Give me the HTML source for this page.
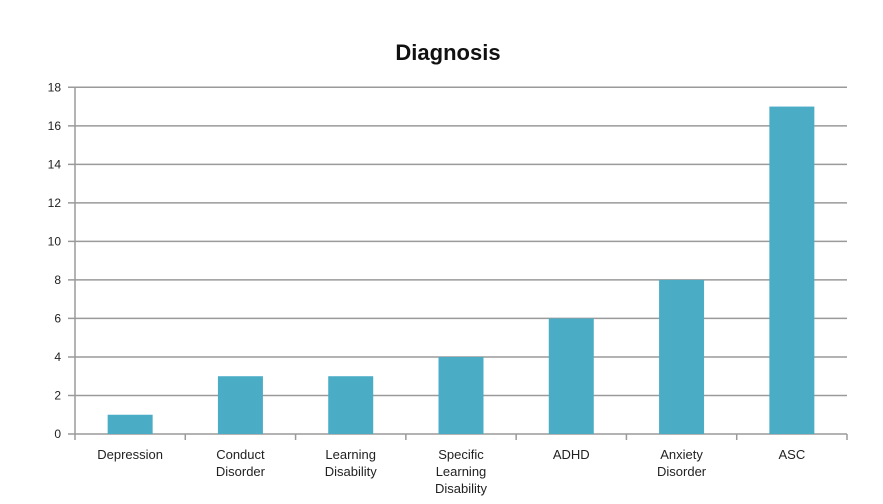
<!DOCTYPE html>
<html><head><meta charset="utf-8"><style>
body{margin:0;background:#fff;}
svg{display:block;font-family:"Liberation Sans",sans-serif;}
</style></head><body>
<svg id="chart" width="883" height="504">
<text x="448" y="60" text-anchor="middle" font-size="22" font-weight="bold" fill="#111">Diagnosis</text>
<g id="grid"></g><g id="bars"></g><g id="labels"></g>
</svg>
<script>
const categories=[["Depression"],["Conduct","Disorder"],["Learning","Disability"],["Specific","Learning","Disability"],["ADHD"],["Anxiety","Disorder"],["ASC"]];
const values=[1,3,3,4,6,8,17];
const yTicks=[0,2,4,6,8,10,12,14,16,18];
const L=75,R=847,T=87.3,B=434,YMAX=18;
const y=v=>B-(v/YMAX)*(B-T);
const cw=(R-L)/categories.length;
const x=i=>L+cw*(i+0.5);
const NS="http://www.w3.org/2000/svg";
function mk(t,a,p){const e=document.createElementNS(NS,t);for(const k in a)e.setAttribute(k,a[k]);p.appendChild(e);return e;}
const g=document.getElementById('grid'),b=document.getElementById('bars'),lb=document.getElementById('labels');
yTicks.forEach(v=>{
 const ln=mk('line',{x1:L-7,x2:R,y1:y(v),y2:y(v),stroke:'#9a9a9a','stroke-width':1.5},g);
 
 
 const t=mk('text',{x:L-14,y:y(v)+4,'text-anchor':'end','font-size':12,fill:'#222'},g);
 t.textContent=v;
 
 
});
const ax=mk('line',{x1:L,x2:L,y1:T,y2:B,stroke:'#9a9a9a','stroke-width':1.5},g);


for(let i=0;i<=categories.length;i++){
 const tk=mk('line',{x1:L+cw*i,x2:L+cw*i,y1:B,y2:B+6,stroke:'#9a9a9a','stroke-width':1.5},g);
 
 
}
values.forEach((v,i)=>{
 const r=mk('rect',{x:x(i)-22.5,y:y(v),width:45,height:B-y(v),fill:'#4bacc6'},b);
 
 
 categories[i].forEach((s,j)=>{
  const t=mk('text',{x:x(i),y:B+25+j*17,'text-anchor':'middle','font-size':13,fill:'#222'},lb);
  t.textContent=s;
  
  
 });
});
</script>
</body></html>
